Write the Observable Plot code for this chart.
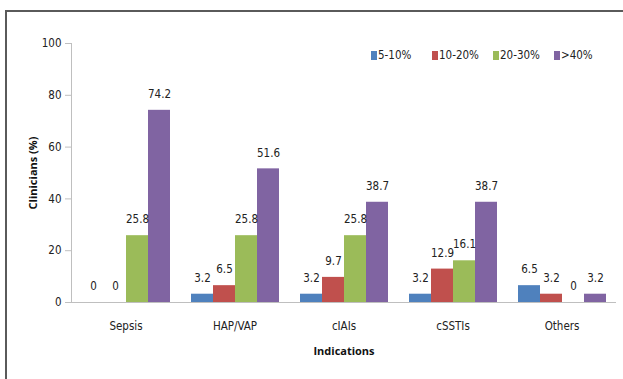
<!DOCTYPE html>
<html>
<head>
<meta charset="utf-8">
<script src="https://cdn.jsdelivr.net/npm/d3@7"></script>
<script src="https://cdn.jsdelivr.net/npm/@observablehq/plot@0.6"></script>
<style>
  html, body { margin: 0; padding: 0; background: #fff; overflow: hidden; }
  #wrap { position: relative; width: 623px; height: 379px; overflow: hidden; }
  #wrap svg { position: absolute; left: 0; top: 0; }
  #frame { position: absolute; left: 5px; top: 10px; width: 700px; height: 500px;
           border-left: 2px solid #5a5a5a; border-top: 2px solid #5a5a5a; box-sizing: border-box; }
  #legend { position: absolute; left: 371px; top: 48px; display: flex;
            font-family: 'DejaVu Sans Condensed', sans-serif; font-stretch: condensed; font-size: 11.5px; color: #222; }
  #legend .item { display: flex; align-items: center; width: 61px; }
  #legend .sw { width: 6px; height: 9px; margin-right: 1px; }
  /* axis titles: bold, normal width */
  #wrap svg g[aria-label$="axis label"] text {
    font-family: 'Open Sans', sans-serif; font-stretch: normal; font-weight: bold; font-size: 11px; fill: #111;
  }
</style>
</head>
<body>
<div id="wrap">
  <div id="frame"></div>
</div>
<script>
// Share of clinicians (%) by indication and by rate band
const categories = ["Sepsis", "HAP/VAP", "cIAIs", "cSSTIs", "Others"];
const seriesNames = ["5-10%", "10-20%", "20-30%", ">40%"];
const seriesColors = ["#4F81BD", "#C0504D", "#9BBB59", "#8064A2"];
const vals5to10 = [0, 3.2, 3.2, 3.2, 6.5];
const vals10to20 = [0, 6.5, 9.7, 12.9, 3.2];
const vals20to30 = [25.8, 25.8, 25.8, 16.1, 0];
const valsOver40 = [74.2, 51.6, 38.7, 38.7, 3.2];
const yTicks = [0, 20, 40, 60, 80, 100];

const seriesValues = [vals5to10, vals10to20, vals20to30, valsOver40];
const rows = [];
categories.forEach((c, i) => {
  seriesNames.forEach((s, j) => rows.push({category: c, series: s, value: seriesValues[j][i]}));
});

const font = "'DejaVu Sans Condensed', sans-serif";

const chart = Plot.plot({
  width: 623,
  height: 379,
  marginLeft: 70,
  marginRight: 6,
  marginTop: 43,
  marginBottom: 77,
  style: {fontFamily: font, fontStretch: "condensed", fontSize: "11.5px", color: "#222", background: "transparent"},
  fx: {domain: categories, padding: 0},
  x: {domain: seriesNames, paddingInner: 0, paddingOuter: 0.375, axis: null},
  y: {domain: [0, 100]},
  color: {domain: seriesNames, range: seriesColors},
  marks: [
    Plot.ruleY([0], {stroke: "#bfbfbf"}),
    Plot.frame({anchor: "left", stroke: "#bfbfbf", facetAnchor: "left"}),
    Plot.barY(rows, {fx: "category", x: "series", y: "value", fill: "series"}),
    Plot.text(rows, {fx: "category", x: "series", y: "value", text: d => String(d.value),
                     dy: -16, fill: "#222", fontSize: 11.5}),
    Plot.axisY({ticks: yTicks, tickSize: 6, tickPadding: 4, stroke: "#bfbfbf", fill: "#222",
                label: "Clinicians (%)", labelAnchor: "center", labelArrow: false, labelOffset: 42}),
    Plot.axisFx({anchor: "bottom", tickSize: 0, tickPadding: 19, fill: "#222",
                 label: "Indications", labelAnchor: "center", labelArrow: false, labelOffset: 52})
  ]
});

const wrap = document.getElementById("wrap");
wrap.appendChild(chart);

// Legend row
const legend = d3.select(wrap).append("div").attr("id", "legend");
const item = legend.selectAll(".item").data(seriesNames).join("div").attr("class", "item");
item.append("div").attr("class", "sw").style("background", (d, i) => seriesColors[i]);
item.append("span").text(d => d);
</script>
</body>
</html>
